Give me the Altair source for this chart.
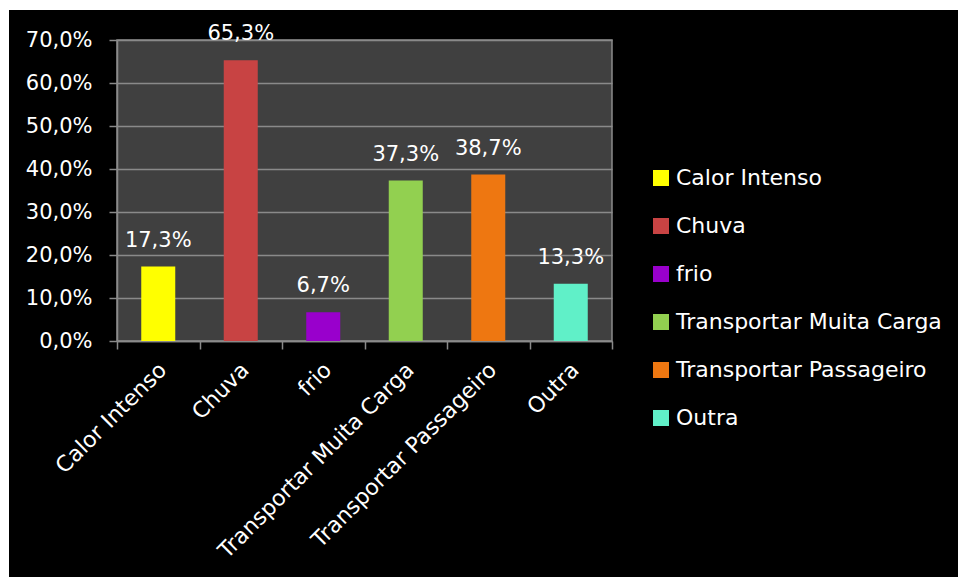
import altair as alt
import pandas as pd

categories = ["Calor Intenso", "Chuva", "frio", "Transportar Muita Carga", "Transportar Passageiro", "Outra"]
values = [17.3, 65.3, 6.7, 37.3, 38.7, 13.3]
colors = ["#FFFF00", "#C84343", "#9900CC", "#92D050", "#EE7711", "#60F0C8"]
y_ticks = [0, 10, 20, 30, 40, 50, 60, 70]

df = pd.DataFrame({"cat": categories, "val": values})

FONT = "DejaVu Sans"
FS = 21
FS_TXT = 22
W, H = 495, 301
PL, PT = 117, 40

x_enc = alt.X("cat:N", sort=categories, title=None,
              scale=alt.Scale(paddingInner=0, paddingOuter=0),
              axis=alt.Axis(labelAngle=-45, labelFontSize=FS_TXT, labelColor="white", labelFont=FONT,
                            domainColor="#8a8a8a", domainWidth=1.5, tickColor="#8a8a8a", tickWidth=1.5,
                            tickSize=8, tickBand="extent", labelPadding=10, labelOffset=-3, labelLimit=400))

base = alt.Chart(df)

bars = base.mark_bar(size=34).encode(
    x=x_enc,
    y=alt.Y("val:Q", title=None, scale=alt.Scale(domain=[0, 70], nice=False),
            axis=alt.Axis(values=y_ticks, labelExpr="replace(format(datum.value, '.1f'), '.', ',') + '%'",
                          labelFontSize=FS, labelColor="white", labelFont=FONT,
                          gridColor="#8a8a8a", gridWidth=1.5, domainColor="#8a8a8a", domainWidth=1.5,
                          tickColor="#8a8a8a", tickWidth=1.5, tickSize=8, labelPadding=17)),
    color=alt.Color("cat:N", sort=categories,
                    scale=alt.Scale(domain=categories, range=colors),
                    legend=alt.Legend(title=None, orient="none", legendX=533, legendY=127,
                                      symbolType="square", symbolSize=256, symbolStrokeWidth=0,
                                      labelFontSize=FS_TXT, labelColor="white", labelFont=FONT,
                                      rowPadding=26, labelOffset=4, labelLimit=400)),
)

labels = base.transform_calculate(
    lab="replace(format(datum.val, '.1f'), '.', ',') + '%'"
).mark_text(dy=-20, baseline="alphabetic", fontSize=FS, color="white", font=FONT).encode(
    x=alt.X("cat:N", sort=categories),
    y="val:Q",
    text="lab:N",
)

strip_data = alt.Data(values=[{"a": 1}])
left_strip = alt.Chart(strip_data).mark_rect(color="white").encode(
    x=alt.value(-PL), x2=alt.value(-PL + 9), y=alt.value(-PT), y2=alt.value(600))
top_strip = alt.Chart(strip_data).mark_rect(color="white").encode(
    x=alt.value(-PL), x2=alt.value(900), y=alt.value(-PT), y2=alt.value(-PT + 10))

chart = alt.layer(left_strip, top_strip, bars, labels).properties(
    width=W, height=H,
    autosize=alt.AutoSizeParams(type="none"),
    padding={"left": PL, "top": PT, "right": 958 - PL - W, "bottom": 577 - PT - H},
    background="black",
).configure_view(fill="#404040", stroke="#8a8a8a", strokeWidth=1.5)

chart.save("out.html", embed_options={"renderer": "svg", "actions": False})
